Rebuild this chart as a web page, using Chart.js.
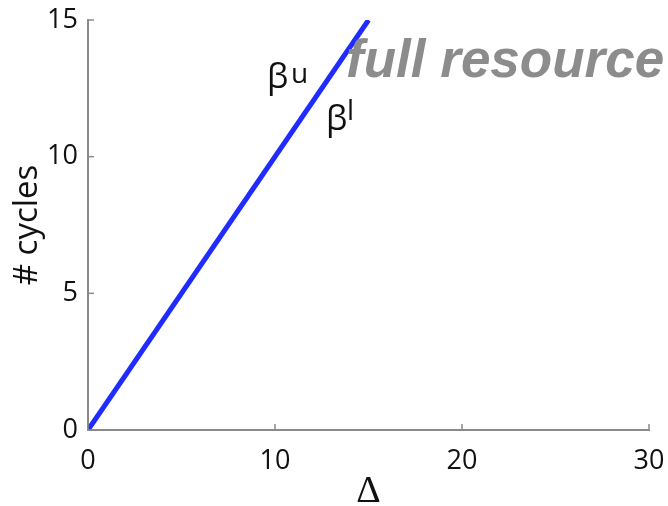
<!DOCTYPE html>
<html>
<head>
<meta charset="utf-8">
<script src="https://cdn.jsdelivr.net/npm/chart.js@4"></script>
<style>
  html, body { margin: 0; padding: 0; background: #fff; }
  #wrap { width: 668px; height: 506px; position: relative; }
</style>
</head>
<body>
<div id="wrap"><canvas id="c"></canvas></div>
<script>
/* ── Data ─────────────────────────────────────────────── */
const xValues = [0, 15];
const yValues = [0, 15];
const xTicks = [0, 10, 20, 30];
const yTicks = [0, 5, 10, 15];

const AXIS_GREY = '#8a8a8a';
const FONT = '"Open Sans", "DejaVu Sans", sans-serif';

/* ── Inward tick marks (MATLAB style) ─────────────────── */
const innerTicks = {
  id: 'innerTicks',
  afterDraw(chart) {
    const { ctx, chartArea: a, scales: { x, y } } = chart;
    ctx.save();
    ctx.strokeStyle = AXIS_GREY;
    ctx.lineWidth = 1.5;
    xTicks.forEach(v => {
      const px = x.getPixelForValue(v);
      ctx.beginPath(); ctx.moveTo(px, a.bottom); ctx.lineTo(px, a.bottom - 6); ctx.stroke();
    });
    yTicks.forEach(v => {
      const py = y.getPixelForValue(v);
      ctx.beginPath(); ctx.moveTo(a.left, py); ctx.lineTo(a.left + 6, py); ctx.stroke();
    });
    ctx.restore();
  }
};

/* ── Text annotations ─────────────────────────────────── */
const labels = {
  id: 'labels',
  afterDatasetsDraw(chart) {
    const { ctx, scales: { x, y } } = chart;
    ctx.save();
    ctx.textBaseline = 'alphabetic';
    ctx.textAlign = 'left';
    ctx.fillStyle = '#111';
    // βu
    let bx = x.getPixelForValue(9.57), by = y.getPixelForValue(12.5);
    ctx.font = '34px ' + FONT;
    ctx.fillText('β', bx, by);
    ctx.font = '28px ' + FONT;
    ctx.fillText('u', bx + 24, by - 5);
    // βl
    bx = x.getPixelForValue(12.73); by = y.getPixelForValue(10.98);
    ctx.font = '34px ' + FONT;
    ctx.fillText('β', bx, by);
    ctx.font = '28px ' + FONT;
    ctx.fillText('l', bx + 21, by - 10);
    // full resource
    ctx.fillStyle = '#8c8c8c';
    ctx.font = 'italic bold 53px "Liberation Sans", Arial, sans-serif';
    ctx.fillText('full resource', x.getPixelForValue(13.8), y.getPixelForValue(12.9));
    ctx.restore();
  }
};

new Chart(document.getElementById('c'), {
  type: 'line',
  data: {
    datasets: [{
      data: xValues.map((v, i) => ({ x: v, y: yValues[i] })),
      borderColor: '#1f2bff',
      borderWidth: 5,
      pointRadius: 0,
      fill: false,
      tension: 0,
    }]
  },
  options: {
    responsive: true, maintainAspectRatio: false, animation: false,
    layout: { padding: { top: 20, right: 19, left: 0, bottom: 0 } },
    plugins: { legend: { display: false }, tooltip: { enabled: false } },
    scales: {
      x: {
        type: 'linear', min: 0, max: 30,
        afterBuildTicks: s => { s.ticks = xTicks.map(v => ({ value: v })); },
        afterFit: s => { s.height = 76; s.paddingLeft = 0; s.paddingRight = 0; },
        grid: { display: false, drawTicks: false },
        border: { display: true, color: AXIS_GREY, width: 2 },
        ticks: { color: '#111', font: { family: FONT, size: 27 }, padding: 15, maxRotation: 0 },
        title: { display: true, text: 'Δ', color: '#111', font: { family: '"Liberation Serif", serif', size: 38 }, padding: { top: 0, bottom: -9 } }
      },
      y: {
        type: 'linear', min: 0, max: 15,
        afterBuildTicks: s => { s.ticks = yTicks.map(v => ({ value: v })); },
        afterFit: s => { s.width = 88; s.paddingTop = 0; s.paddingBottom = 0; },
        grid: { display: false, drawTicks: false },
        border: { display: true, color: AXIS_GREY, width: 2 },
        ticks: { color: '#111', font: { family: FONT, size: 27 }, padding: 10 },
        title: { display: true, text: '# cycles', color: '#111', font: { family: FONT, size: 33 }, padding: { top: 8, bottom: 0 } }
      }
    }
  },
  plugins: [innerTicks, labels]
});
</script>
</body>
</html>
